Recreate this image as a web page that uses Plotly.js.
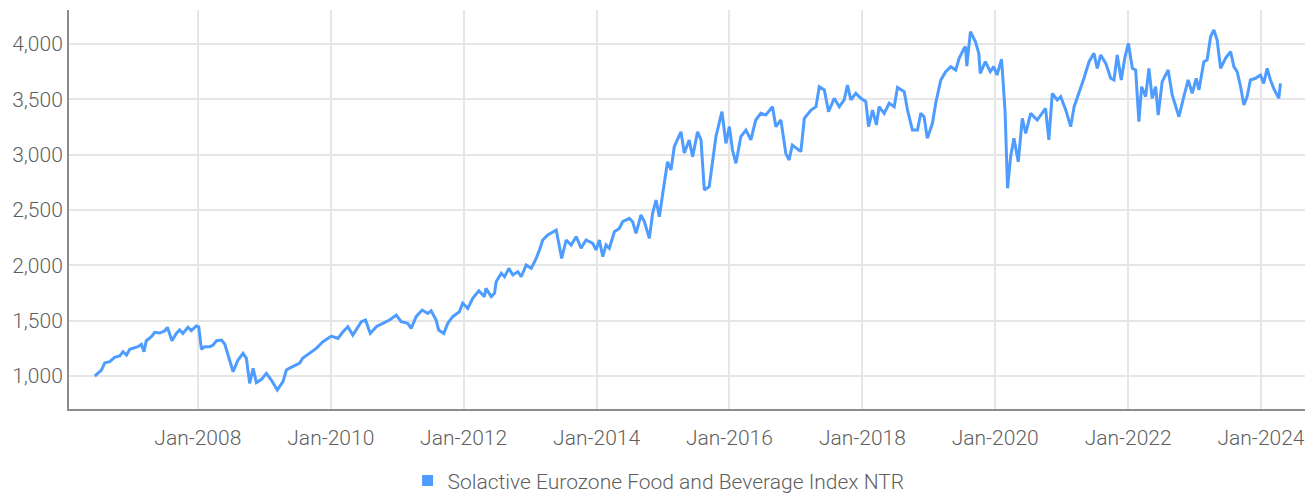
<!DOCTYPE html>
<html>
<head>
<meta charset="utf-8">
<script src="https://cdn.plot.ly/plotly-3.0.1.min.js"></script>
<style>
  html, body { margin: 0; padding: 0; background: #fff; }
  #chart { width: 1315px; height: 496px; }
</style>
</head>
<body>
<div id="chart"></div>
<script>
const seriesName = 'Solactive Eurozone Food and Beverage Index NTR';

const dates = [
  '2006-06-14','2006-07-20','2006-08-08','2006-09-04','2006-10-01','2006-10-29','2006-11-16','2006-12-05','2006-12-23',
  '2007-02-06','2007-02-25','2007-03-11','2007-03-24','2007-04-21','2007-05-09','2007-06-05','2007-07-03','2007-07-18',
  '2007-08-12','2007-09-05','2007-09-23','2007-10-11','2007-11-08','2007-11-26','2007-12-24',
  '2008-01-06','2008-01-21','2008-02-08','2008-03-07','2008-03-25','2008-04-13','2008-05-10','2008-05-28','2008-06-15',
  '2008-07-13','2008-08-09','2008-09-06','2008-09-24','2008-10-12','2008-10-31','2008-11-18','2008-12-16',
  '2009-01-12','2009-02-08','2009-03-13','2009-04-13','2009-05-02','2009-05-20','2009-07-14','2009-07-30','2009-09-07',
  '2009-10-13','2009-11-19','2009-12-15',
  '2010-01-04','2010-02-09','2010-03-09','2010-04-05','2010-05-02','2010-06-18','2010-07-11','2010-08-06','2010-09-08',
  '2010-10-14','2010-11-20','2010-12-27',
  '2011-01-23','2011-02-28','2011-03-19','2011-04-15','2011-05-18','2011-06-18','2011-07-07','2011-08-03','2011-08-17',
  '2011-09-14','2011-10-06','2011-11-02','2011-12-09','2011-12-27',
  '2012-01-24','2012-02-20','2012-03-25','2012-04-24','2012-05-03','2012-06-01','2012-06-19','2012-06-28','2012-07-26',
  '2012-08-13','2012-09-06','2012-09-27','2012-10-25','2012-11-13','2012-12-10',
  '2013-01-07','2013-02-03','2013-02-21','2013-03-11','2013-04-08','2013-05-05','2013-05-24','2013-06-11','2013-06-23',
  '2013-07-18','2013-08-14','2013-09-11','2013-10-08','2013-11-04','2013-12-11','2013-12-29',
  '2014-01-16','2014-02-04','2014-02-22','2014-03-12','2014-04-09','2014-05-06','2014-05-24','2014-06-30','2014-07-18',
  '2014-08-06','2014-09-02','2014-09-21','2014-10-18','2014-11-05','2014-11-24','2014-12-12','2014-12-27',
  '2015-01-08','2015-01-26','2015-02-14','2015-03-04','2015-04-10','2015-04-28','2015-05-25','2015-06-13','2015-07-10',
  '2015-07-29','2015-08-16','2015-09-12','2015-09-30','2015-10-19','2015-11-21','2015-12-13',
  '2016-01-01','2016-01-18','2016-02-06','2016-03-04','2016-04-01','2016-04-28','2016-05-25','2016-06-22','2016-07-19',
  '2016-08-25','2016-09-12','2016-10-10','2016-11-06','2016-11-24','2016-12-12',
  '2017-01-28','2017-02-16','2017-03-25','2017-04-21','2017-05-09','2017-06-06','2017-06-29','2017-07-30','2017-08-27',
  '2017-09-23','2017-10-11','2017-10-30','2017-11-26','2017-12-24',
  '2018-01-20','2018-02-04','2018-02-26','2018-03-19','2018-04-03','2018-05-01','2018-05-28','2018-06-25','2018-07-13',
  '2018-08-19','2018-09-06','2018-10-03','2018-10-31','2018-11-18','2018-12-06','2018-12-24',
  '2019-01-21','2019-02-08','2019-03-08','2019-04-04','2019-05-02','2019-05-29','2019-06-17','2019-07-14','2019-07-22',
  '2019-07-29','2019-08-18','2019-09-14','2019-10-03','2019-10-11','2019-11-08','2019-12-05','2019-12-24',
  '2020-01-11','2020-02-05','2020-02-24','2020-03-09','2020-03-26','2020-04-13','2020-05-07','2020-05-29','2020-06-17',
  '2020-07-14','2020-08-19','2020-09-07','2020-10-04','2020-10-22','2020-11-10','2020-12-07','2020-12-26',
  '2021-01-23','2021-02-19','2021-03-10','2021-04-06','2021-05-03','2021-05-31','2021-06-27','2021-07-15','2021-08-03',
  '2021-08-31','2021-09-27','2021-10-15','2021-11-02','2021-11-24','2021-12-13',
  '2022-01-02','2022-01-24','2022-02-11','2022-03-01','2022-03-16','2022-04-07','2022-04-25','2022-05-13','2022-06-01',
  '2022-06-15','2022-07-07','2022-08-09','2022-08-31','2022-10-07','2022-11-03','2022-11-27','2022-12-19',
  '2023-01-10','2023-01-25','2023-02-21','2023-03-11','2023-03-30','2023-04-17','2023-05-05','2023-05-24','2023-06-20',
  '2023-07-18','2023-08-05','2023-08-23','2023-09-11','2023-09-29','2023-10-17','2023-11-04','2023-12-02','2023-12-29',
  '2024-01-16','2024-02-04','2024-02-22','2024-03-11','2024-04-08','2024-04-17'
];

const values = [
  1000,1054,1120,1130,1169,1181,1220,1190,1241,
  1265,1286,1220,1319,1355,1395,1388,1407,1440,
  1319,1385,1416,1385,1440,1410,1452,
  1445,1241,1265,1265,1280,1319,1325,1289,1190,
  1039,1145,1205,1160,934,1069,940,970,
  1024,964,873,949,1054,1072,1117,1160,1208,
  1250,1310,1343,
  1361,1340,1400,1445,1370,1491,1506,1385,1445,
  1476,1506,1551,
  1491,1476,1431,1536,1596,1566,1590,1506,1416,
  1385,1476,1536,1581,1657,
  1611,1702,1770,1717,1792,1717,1747,1852,1928,
  1897,1973,1913,1942,1897,2003,
  1973,2063,2139,2229,2274,2304,2319,2168,2063,
  2229,2184,2259,2154,2229,2199,2139,
  2229,2078,2184,2154,2304,2334,2394,2424,2394,
  2289,2455,2394,2244,2470,2590,2439,2590,
  2741,2936,2861,3072,3207,3015,3133,2982,3207,
  3133,2681,2711,2922,3163,3388,3102,
  3253,3042,2922,3163,3223,3133,3313,3373,3358,
  3433,3253,3313,3012,2952,3087,
  3027,3328,3403,3433,3614,3584,3388,3509,3433,
  3494,3629,3494,3554,3509,
  3479,3253,3403,3268,3433,3373,3464,3433,3608,
  3569,3403,3223,3223,3373,3343,3147,
  3283,3464,3675,3750,3795,3765,3870,3961,3976,
  3800,4112,4021,3916,3735,3840,3750,3795,
  3720,3862,3403,2696,2982,3147,2936,3328,3192,
  3373,3313,3358,3418,3133,3554,3494,3524,
  3403,3253,3433,3554,3690,3840,3916,3780,3901,
  3825,3690,3675,3901,3675,3870,
  4006,3780,3765,3298,3614,3524,3780,3509,3614,
  3358,3660,3765,3539,3343,3524,3675,3554,
  3690,3584,3840,3855,4066,4127,4036,3780,3870,
  3931,3795,3750,3614,3449,3524,3675,3690,3720,
  3644,3780,3675,3599,3509,3644
];

const yTicks = [1000, 1500, 2000, 2500, 3000, 3500, 4000];
const lineColor = '#4f9cff';
const textColor = '#5f5f5f';
const fontFamily = 'Roboto, "Liberation Sans", sans-serif';

const traces = [
  {
    type: 'scatter', mode: 'lines', x: dates, y: values,
    name: seriesName, showlegend: false,
    line: { color: lineColor, width: 3 }, hoverinfo: 'x+y'
  },
  {
    type: 'scatter', mode: 'markers', x: [null], y: [null],
    name: seriesName, showlegend: true,
    marker: { symbol: 'square', color: lineColor, size: 11 }
  }
];

const layout = {
  width: 1315, height: 496,
  margin: { l: 69, r: 10, t: 10, b: 87, autoexpand: false },
  paper_bgcolor: '#ffffff', plot_bgcolor: '#ffffff',
  font: { family: fontFamily, size: 21, color: textColor, weight: 300 },
  showlegend: true,
  legend: {
    orientation: 'h', x: 0.477, xanchor: 'center', y: -0.18, yanchor: 'middle',
    font: { family: fontFamily, size: 21, color: textColor, weight: 300 },
    itemwidth: 30, bgcolor: 'rgba(0,0,0,0)'
  },
  xaxis: {
    type: 'date', automargin: false,
    range: ['2006-01-23', '2024-08-30'],
    tick0: '2008-01-01', dtick: 'M24', tickformat: '%b-%Y',
    showgrid: true, gridcolor: '#e6e6e6', gridwidth: 2,
    showline: true, linecolor: '#8c8c8c', linewidth: 2,
    ticks: '', ticklen: 0, zeroline: false, ticklabelstandoff: 9,
    tickfont: { family: fontFamily, size: 21, color: textColor, weight: 300 }
  },
  yaxis: {
    automargin: false,
    range: [702, 4307],
    tickvals: yTicks, tickformat: ',d',
    showgrid: true, gridcolor: '#e6e6e6', gridwidth: 2,
    showline: true, linecolor: '#8c8c8c', linewidth: 2,
    ticks: '', ticklen: 0, zeroline: false,
    tickfont: { family: fontFamily, size: 21, color: textColor, weight: 300 }
  }
};

Plotly.newPlot('chart', traces, layout, { displayModeBar: false, responsive: false });
</script>
</body>
</html>
